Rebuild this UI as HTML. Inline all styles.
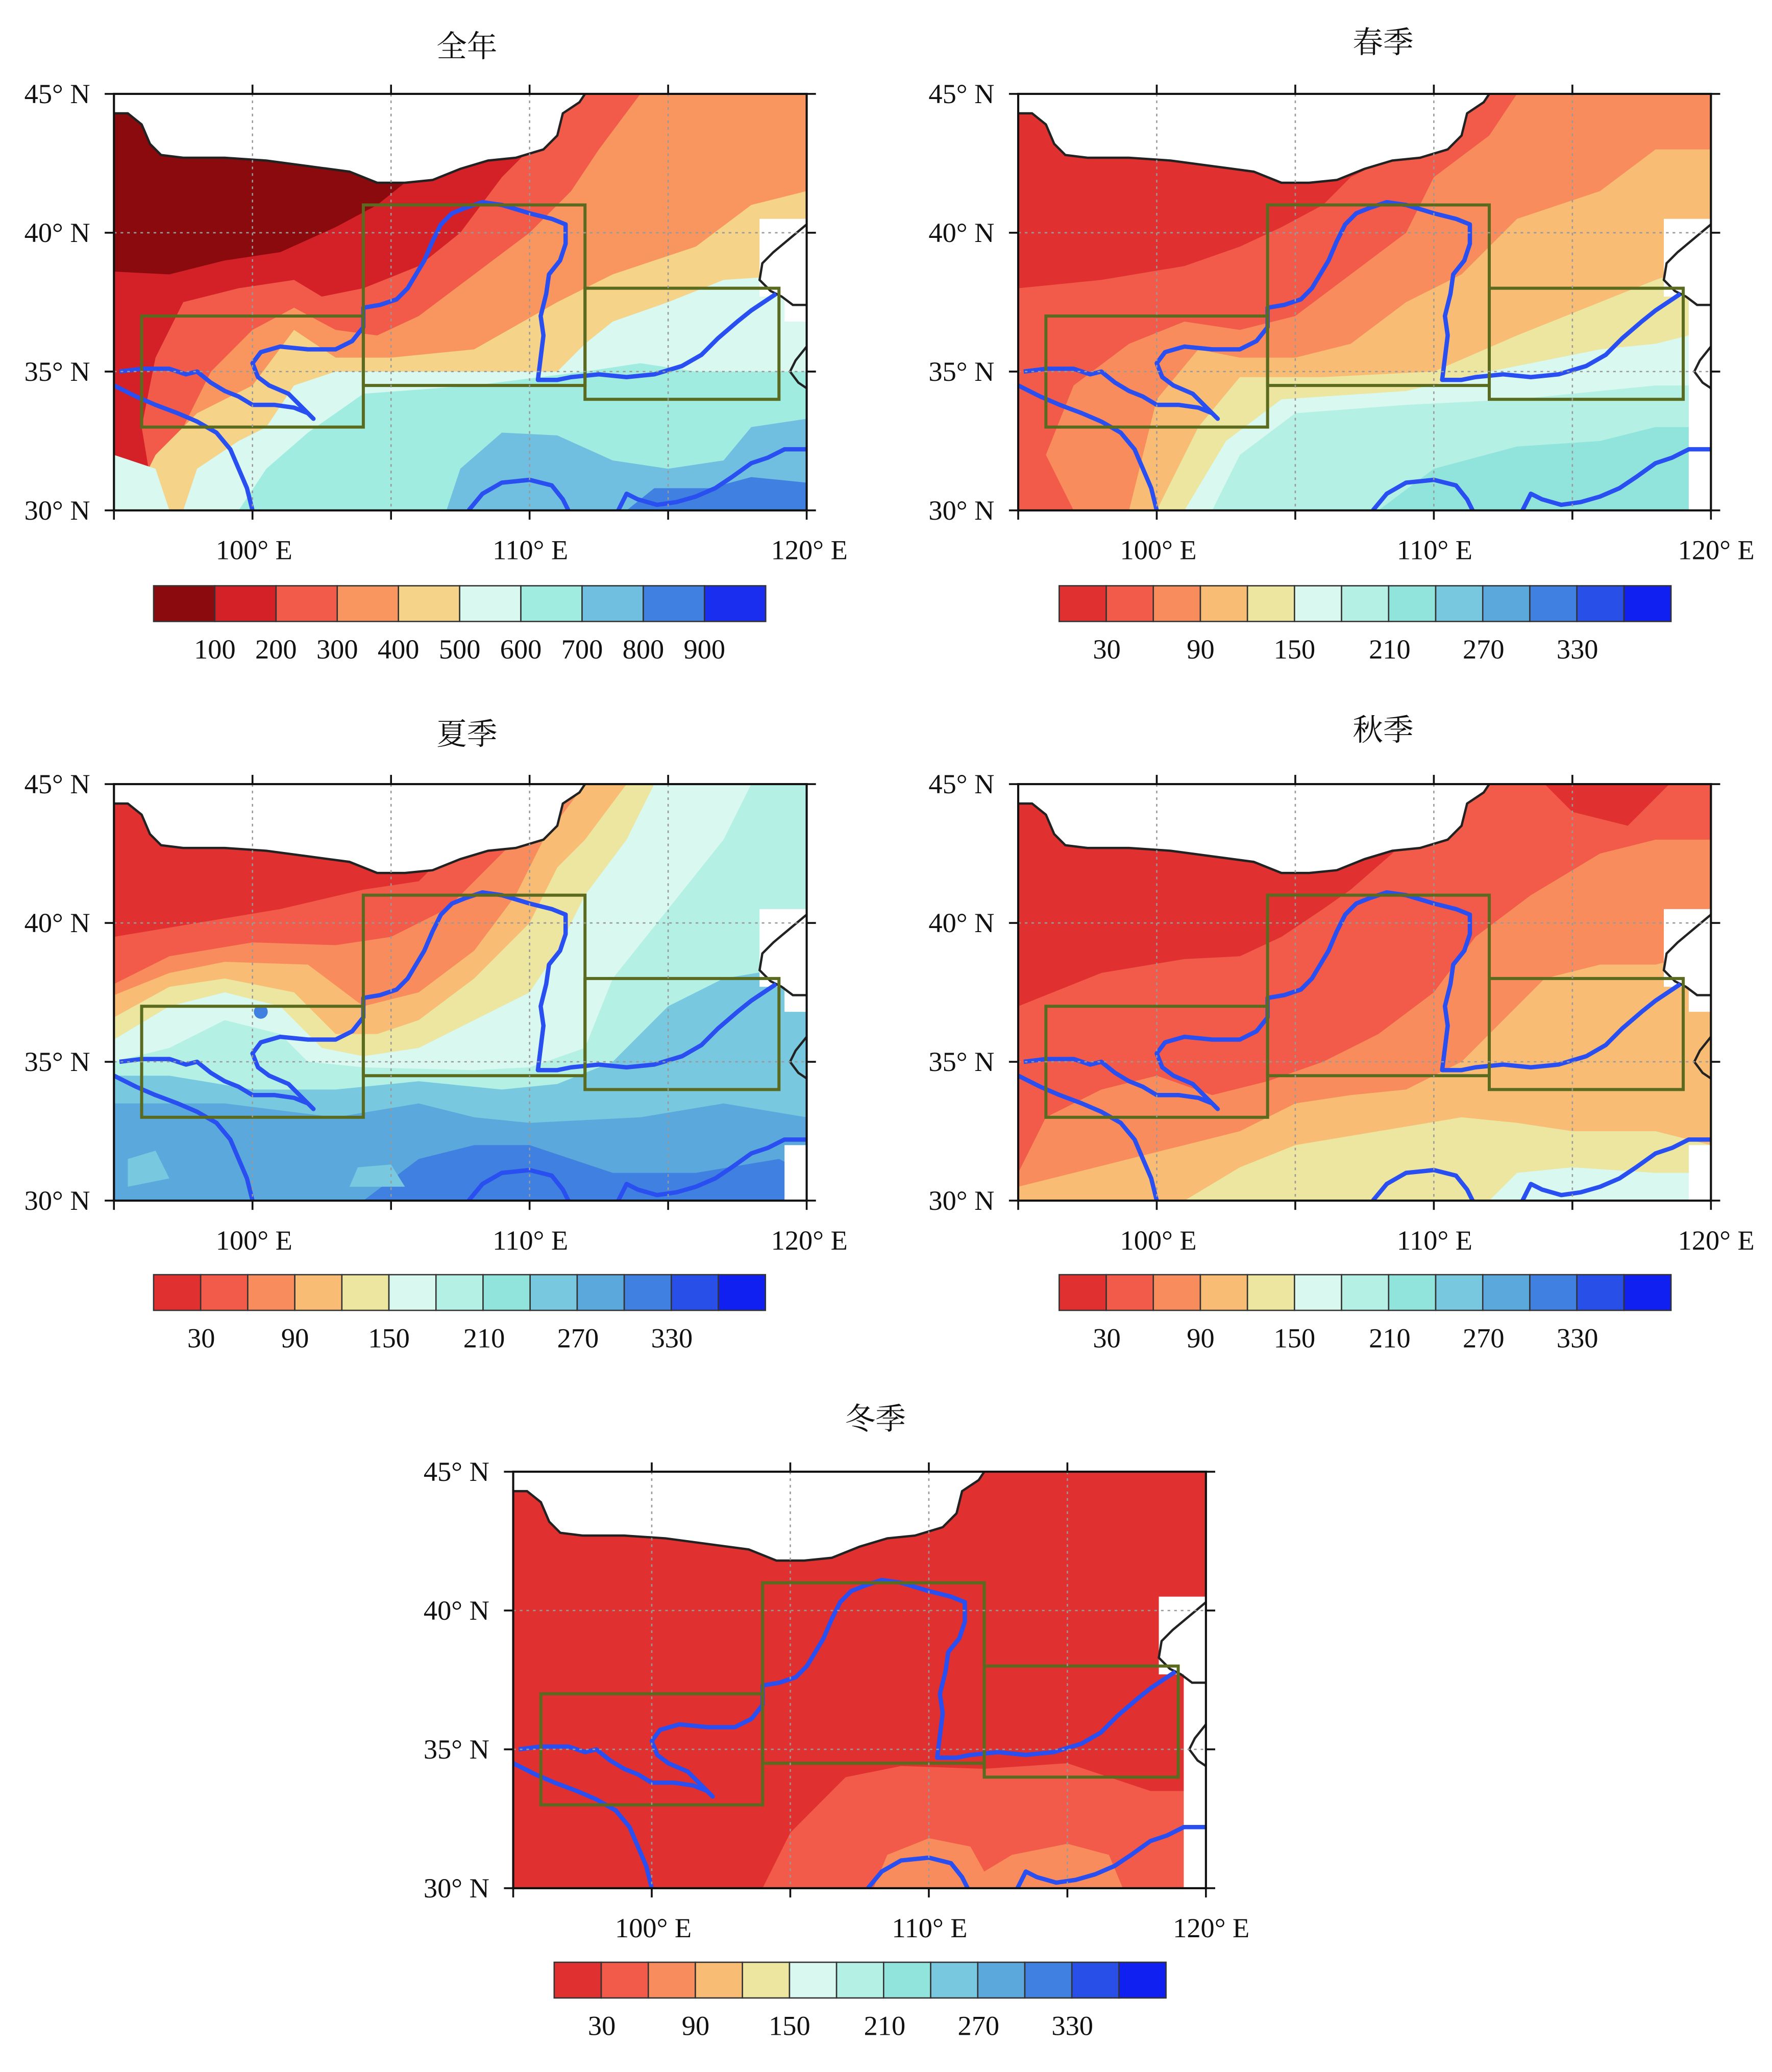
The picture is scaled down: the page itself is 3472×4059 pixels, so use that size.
<!DOCTYPE html>
<html><head><meta charset="utf-8"><style>
html,body{margin:0;padding:0;background:#fff}
svg{display:block}
text{font-family:"Liberation Serif","Noto Serif CJK SC",serif;fill:#111}
.t{font-family:"Liberation Serif","Noto Serif CJK SC","Noto Sans CJK SC",serif;font-size:23px}
.ax{font-size:21px}
</style></head><body>
<svg width="3472" height="4059" viewBox="0 0 1340 1567" xmlns="http://www.w3.org/2000/svg" xmlns:xlink="http://www.w3.org/1999/xlink">
<defs>
<clipPath id="cp"><rect x="95" y="30" width="25" height="15"/></clipPath>
<g id="over">
<polygon fill="#fff" points="95,45 95,44.3 95.5,44.3 96,43.9 96.3,43.2 96.7,42.8 97.5,42.7 99,42.7 100.5,42.6 102,42.4 103.5,42.2 104.5,41.8 105.5,41.8 106.5,41.9 107.5,42.3 108.5,42.6 109.5,42.7 110.5,43 111,43.5 111.2,44.3 111.8,44.7 112,45"/>
<polyline fill="none" stroke="#222" stroke-width="4.5" vector-effect="non-scaling-stroke" points="95,44.3 95.5,44.3 96,43.9 96.3,43.2 96.7,42.8 97.5,42.7 99,42.7 100.5,42.6 102,42.4 103.5,42.2 104.5,41.8 105.5,41.8 106.5,41.9 107.5,42.3 108.5,42.6 109.5,42.7 110.5,43 111,43.5 111.2,44.3 111.8,44.7 112,45"/>
<polygon fill="#fff" points="118.3,40.5 120,40.5 120,36.8 119.2,36.8 119.2,37.7 118.3,37.7"/>
<polyline fill="none" stroke="#222" stroke-width="4.5" vector-effect="non-scaling-stroke" points="120,40.3 119.4,39.8 118.8,39.3 118.4,38.9 118.3,38.3 118.7,37.9 119.1,37.7 119.5,37.4 120,37.4"/>
<polyline fill="none" stroke="#222" stroke-width="4.5" vector-effect="non-scaling-stroke" points="120,35.9 119.6,35.4 119.4,35 119.7,34.6 120,34.4"/>
<polyline fill="none" stroke="#2a4ff0" stroke-width="8.5" stroke-linejoin="round" vector-effect="non-scaling-stroke" points="95.2,35 96,35.1 97,35.1 97.6,34.9 98,35 98.5,34.6 99,34.3 99.5,34.1 100,33.8 100.8,33.8 101.5,33.7 102,33.5 102.2,33.3 101.8,33.7 101.3,34.2 100.6,34.5 100.2,34.8 100,35.3 100.3,35.7 101,35.9 102,35.8 103,35.8 103.6,36.1 104,36.6 104,37.3 104.6,37.4 105.2,37.6 105.6,38 105.9,38.5 106.2,39 106.5,39.7 106.8,40.3 107.2,40.7 107.7,40.9 108.3,41.1 109,41 110,40.7 110.8,40.5 111.3,40.3 111.3,39.6 111.1,39 110.7,38.5 110.6,37.8 110.4,37 110.5,36.3 110.4,35.5 110.3,34.7 111,34.7 111.5,34.8 112.5,34.9 113.5,34.8 114.5,34.9 115.5,35.2 116.2,35.6 116.8,36.2 117.5,36.8 118,37.2 118.6,37.6 118.9,37.8"/>
<polyline fill="none" stroke="#2a4ff0" stroke-width="8.5" stroke-linejoin="round" vector-effect="non-scaling-stroke" points="95,34.5 95.8,34.1 96.5,33.8 97.3,33.5 98,33.2 98.7,32.8 99.2,32.2 99.5,31.5 99.8,30.8 100,30"/>
<polyline fill="none" stroke="#2a4ff0" stroke-width="8.5" stroke-linejoin="round" vector-effect="non-scaling-stroke" points="107.8,30 108.3,30.6 109,31 110,31.1 110.8,30.9 111.2,30.4 111.4,30"/>
<polyline fill="none" stroke="#2a4ff0" stroke-width="8.5" stroke-linejoin="round" vector-effect="non-scaling-stroke" points="113.2,30 113.5,30.6 113.9,30.4 114.6,30.2 115.3,30.3 116,30.5 116.7,30.8 117.3,31.2 118,31.7 118.6,31.9 119.2,32.2 120,32.2"/>
<g fill="none" stroke="#5a6a1e" stroke-width="6" vector-effect="non-scaling-stroke">
<rect x="96" y="33" width="8" height="4" vector-effect="non-scaling-stroke"/>
<rect x="104" y="34.5" width="8" height="6.5" vector-effect="non-scaling-stroke"/>
<rect x="112" y="34" width="7" height="4" vector-effect="non-scaling-stroke"/>
</g>
</g>
<g id="frame">
<g stroke="#999" stroke-width="1" stroke-dasharray="2,3">
<line x1="104.8" y1="0" x2="104.8" y2="315"/><line x1="209.6" y1="0" x2="209.6" y2="315"/><line x1="314.4" y1="0" x2="314.4" y2="315"/><line x1="419.2" y1="0" x2="419.2" y2="315"/>
<line x1="0" y1="105" x2="524" y2="105"/><line x1="0" y1="210" x2="524" y2="210"/>
</g>
<rect x="0" y="0" width="524" height="315" fill="none" stroke="#111" stroke-width="1.6"/>
<g stroke="#111" stroke-width="1.4">
<line x1="104.8" y1="315" x2="104.8" y2="322"/><line x1="209.6" y1="315" x2="209.6" y2="322"/><line x1="314.4" y1="315" x2="314.4" y2="322"/><line x1="419.2" y1="315" x2="419.2" y2="322"/><line x1="0" y1="315" x2="0" y2="322"/><line x1="524" y1="315" x2="524" y2="322"/>
<line x1="104.8" y1="0" x2="104.8" y2="-7"/><line x1="209.6" y1="0" x2="209.6" y2="-7"/><line x1="314.4" y1="0" x2="314.4" y2="-7"/><line x1="419.2" y1="0" x2="419.2" y2="-7"/>
<line x1="-7" y1="0" x2="0" y2="0"/><line x1="-7" y1="105" x2="0" y2="105"/><line x1="-7" y1="210" x2="0" y2="210"/><line x1="-7" y1="315" x2="0" y2="315"/>
<line x1="524" y1="0" x2="531" y2="0"/><line x1="524" y1="105" x2="531" y2="105"/><line x1="524" y1="210" x2="531" y2="210"/><line x1="524" y1="315" x2="531" y2="315"/>
</g>
</g>
<g id="cbS" stroke="#333" stroke-width="1">
<rect x="0" width="35.6" height="27" fill="#e03030"/><rect x="35.6" width="35.6" height="27" fill="#f25a4a"/><rect x="71.2" width="35.6" height="27" fill="#f98c5c"/><rect x="106.8" width="35.6" height="27" fill="#f8bc74"/><rect x="142.4" width="35.6" height="27" fill="#ece6a0"/><rect x="178" width="35.6" height="27" fill="#d9f8f0"/><rect x="213.6" width="35.6" height="27" fill="#b4f0e4"/><rect x="249.2" width="35.6" height="27" fill="#90e4dc"/><rect x="284.8" width="35.6" height="27" fill="#78c8e0"/><rect x="320.4" width="35.6" height="27" fill="#5aa8dc"/><rect x="356" width="35.6" height="27" fill="#4080e0"/><rect x="391.6" width="35.6" height="27" fill="#2850e8"/><rect x="427.2" width="35.6" height="27" fill="#1020f0"/>
</g>
<g id="cbA" stroke="#333" stroke-width="1">
<rect x="0" width="46.3" height="27" fill="#8b0a0e"/><rect x="46.3" width="46.3" height="27" fill="#d42128"/><rect x="92.6" width="46.3" height="27" fill="#f25a4a"/><rect x="138.9" width="46.3" height="27" fill="#f99660"/><rect x="185.2" width="46.3" height="27" fill="#f5d48a"/><rect x="231.5" width="46.3" height="27" fill="#d8f8f0"/><rect x="277.8" width="46.3" height="27" fill="#a0ece0"/><rect x="324.1" width="46.3" height="27" fill="#70bee0"/><rect x="370.4" width="46.3" height="27" fill="#4080e0"/><rect x="416.7" width="46.3" height="27" fill="#1a2ef0"/>
</g>
</defs>

<!-- Panel 1 annual -->
<g transform="translate(86,71)"><g transform="scale(20.96,-21) translate(-95,-45)"><g clip-path="url(#cp)">
<rect x="95" y="30" width="25" height="15" fill="#8b0a0e"/>
<polygon fill="#d42128" points="95,38.6 97,38.5 99,39 101,39.3 103,40.2 104.5,41 105.5,41.8 106,45 120,45 120,30 95,30"/>
<polygon fill="#f25a4a" points="96.5,30 96,33 96.5,35.5 97.5,37.5 99.5,38 101.5,38.3 102.5,37.7 104,38 106,38.8 107.5,40 109,42 110.5,43.5 111.5,45 120,45 120,30"/>
<polygon fill="#f99660" points="97,30 97.5,33 98.5,35 100,36.5 101.5,37.3 103,36.5 104.5,36.3 106,37 108,38.5 110,40 111.5,41.5 112.5,43 114,45 120,45 120,30"/>
<polygon fill="#f5d48a" points="95.5,30 96.5,32 98,33.5 99,34 100,34.5 101.5,36.5 103,35.5 105,35.5 108,35.8 111,37.5 113,38.5 116,39.5 118,41 120,41.5 120,30"/>
<polygon fill="#d8f8f0" points="97.5,30 98,31.5 99.5,32.5 100.5,33 101.5,34.5 103,35 105,35 108,35 111,35 112,36 113,36.8 115,37.5 117,38.3 120,38.5 120,30"/>
<polygon fill="#a0ece0" points="99.5,30 100.5,31.5 102,32.8 104,34.2 108,34.5 112,35 114,35.3 116,35 120,35 120,30"/>
<polygon fill="#70bee0" points="107,30 107.5,31.5 109,32.8 111,32.7 113,31.8 115,31.5 117,31.8 118,33 120,33.3 120,30"/>
<polygon fill="#4080e0" points="113.5,30 114.5,30.8 116.5,30.8 118,31.2 120,31 120,30"/>
<polygon fill="#d8f8f0" points="95,30 95,32 96.5,31.5 97,30"/>
<use xlink:href="#over"/>
</g></g><use xlink:href="#frame"/></g>

<!-- Panel 2 spring -->
<g transform="translate(770,71)"><g transform="scale(20.96,-21) translate(-95,-45)"><g clip-path="url(#cp)">
<rect x="95" y="30" width="25" height="15" fill="#e03030"/>
<polygon fill="#f25a4a" points="95,38 98,38.3 101,38.8 103,39.5 104.5,40.2 106,41 107,42 109,43 110,45 120,45 120,30 95,30"/>
<polygon fill="#f98c5c" points="97,30 96,32 97,34.5 99,36 101,36.8 103,36.5 105,37 107,38.5 109,40 110,42 112,43.5 113,45 120,45 120,30"/>
<polygon fill="#f8bc74" points="99,30 99.5,32 100,34 101.5,35.8 103,35.5 105,35.5 107,36 109,37.5 111,38.5 113,40.5 116,41.5 118,43 120,43 120,30"/>
<polygon fill="#ece6a0" points="100,30 101.5,33 103,34.8 106,34.8 110,35 113,36.3 116,37.5 118,38.3 120,39 120,30"/>
<polygon fill="#d9f8f0" points="101,30 102.5,32.5 104.5,34 109,34.3 112,35 116,35.8 118,36 120,36.5 120,30"/>
<polygon fill="#b4f0e4" points="102,30 103,32 105,33.5 109,33.8 113,34 118,34.5 120,34.5 120,30"/>
<polygon fill="#90e4dc" points="108,30 110,31.5 113,32.3 116,32.5 118,33 120,33 120,30"/>
<polygon fill="#fff" points="119.2,30 120,30 120,36.8 119.2,36.8"/>
<use xlink:href="#over"/>
</g></g><use xlink:href="#frame"/></g>

<!-- Panel 3 summer -->
<g transform="translate(86,593)"><g transform="scale(20.96,-21) translate(-95,-45)"><g clip-path="url(#cp)">
<rect x="95" y="30" width="25" height="15" fill="#e03030"/>
<polygon fill="#f25a4a" points="95,39.5 98,40 101,40.5 104,41.2 106,41.5 107,42.5 108.5,43.5 110,45 120,45 120,30 95,30"/>
<polygon fill="#f98c5c" points="95,37.8 97,38.8 100,39.3 103,39.2 105,39.5 107,40.5 108.5,42 110,43.5 111,45 120,45 120,30 95,30"/>
<polygon fill="#f8bc74" points="95,37.4 97,38.2 99,38.6 102,38.5 104,37 106,37.5 108,39 109.5,41 110.5,43 112,45 120,45 120,30 95,30"/>
<polygon fill="#ece6a0" points="95,36.6 97,37.7 99,38 101.5,37.5 103,36 104.5,36 106,36.5 108,38 110,40 111,42 112,43 113.5,45 120,45 120,30 95,30"/>
<polygon fill="#d9f8f0" points="95,35.8 97,37 99,37.5 101,37 102.5,35.5 104,35.2 106,35.5 108,36.5 110,37.5 111,39 112,41 113.5,43 114.5,45 120,45 120,30 95,30"/>
<polygon fill="#b4f0e4" points="95,35 97,35.5 99,36.5 101,36 102,35 104,34.8 108,34.7 110,34.8 112,35.5 113,38 115,40.5 117,43 118,45 120,45 120,30 95,30"/>
<polygon fill="#78c8e0" points="95,34.5 97,34.5 100,34 103,34 106,34.3 109,34 111,34.2 113,35 115,37 117,38 120,38.5 120,30 95,30"/>
<polygon fill="#5aa8dc" points="95,33.5 99,33.5 103,33 106,33.5 108,33 110,32.8 114,33 117,33.5 120,33 120,30 95,30"/>
<polygon fill="#4080e0" points="104,30 106,31.5 108,32 110,32 113,31 116,31 119,31.5 120,31 120,30"/>
<polygon fill="#78c8e0" points="103.5,30.5 105.5,30.5 105,31.3 103.8,31.2"/>
<polygon fill="#78c8e0" points="95.5,30.5 97,30.8 96.5,31.8 95.5,31.5"/>
<ellipse cx="100.3" cy="36.8" rx="0.25" ry="0.25" fill="#4080e0"/>
<polygon fill="#fff" points="119.2,30 120,30 120,32 119.2,32"/>
<use xlink:href="#over"/>
</g></g><use xlink:href="#frame"/></g>

<!-- Panel 4 autumn -->
<g transform="translate(770,593)"><g transform="scale(20.96,-21) translate(-95,-45)"><g clip-path="url(#cp)">
<rect x="95" y="30" width="25" height="15" fill="#e03030"/>
<polygon fill="#f25a4a" points="95,37 98,38.2 101,38.7 103,38.8 104.5,39.5 106,40.5 107,41.2 108.5,42.5 110,44 111,45 120,45 120,30 95,30"/>
<polygon fill="#e03030" points="114,45 115,44 117,43.5 118,44.5 118.5,45"/>
<polygon fill="#f98c5c" points="95,31 96,33 98,34 100,34.5 102,33.8 104,34.3 106,35 108,36 110,37.5 111.5,39.5 113.5,41 116,42.5 118,43 120,43 120,30 95,30"/>
<polygon fill="#f8bc74" points="95,30.5 97,31 99,31.5 101,32 103,32.5 105,33.5 107,33.8 109,34 111,35 112.5,36.5 114,38 116,38.5 118,38.5 120,39 120,30 95,30"/>
<polygon fill="#ece6a0" points="101,30 103,31.2 105,32 108,32.5 111,33 113,32.8 115,32.5 118,32.5 120,32 120,30"/>
<polygon fill="#d9f8f0" points="112,30 113,31 115,31.2 118,31 120,31 120,30"/>
<polygon fill="#fff" points="119.2,30 120,30 120,32 119.2,32"/>
<use xlink:href="#over"/>
</g></g><use xlink:href="#frame"/></g>

<!-- Panel 5 winter -->
<g transform="translate(388,1113)"><g transform="scale(20.96,-21) translate(-95,-45)"><g clip-path="url(#cp)">
<rect x="95" y="30" width="25" height="15" fill="#e03030"/>
<polygon fill="#f25a4a" points="104,30 105,32 107,34 109,34.4 112,34.3 115,34.5 118,33.5 120,33.5 120,30"/>
<polygon fill="#f98c5c" points="108,30 108.5,31.2 110,31.8 111.5,31.5 112,30.6 113,31.2 115,31.6 116.5,31.2 117,30"/>
<polygon fill="#fff" points="119.2,30 120,30 120,36.8 119.2,36.8"/>
<use xlink:href="#over"/>
</g></g><use xlink:href="#frame"/></g>

<!-- titles -->
<g class="t">
<text x="353" y="43" text-anchor="middle" class="t">全年</text>
<text x="1046" y="40" text-anchor="middle" class="t">春季</text>
<text x="353" y="563" text-anchor="middle" class="t">夏季</text>
<text x="1046" y="560" text-anchor="middle" class="t">秋季</text>
<text x="662" y="1081" text-anchor="middle" class="t">冬季</text>
</g>

<!-- axis labels -->
<g class="ax" text-anchor="end">
<text x="68" y="78" class="ax">45° N</text><text x="68" y="183" class="ax">40° N</text><text x="68" y="288" class="ax">35° N</text><text x="68" y="393" class="ax">30° N</text>
<text x="752" y="78" class="ax">45° N</text><text x="752" y="183" class="ax">40° N</text><text x="752" y="288" class="ax">35° N</text><text x="752" y="393" class="ax">30° N</text>
<text x="68" y="600" class="ax">45° N</text><text x="68" y="705" class="ax">40° N</text><text x="68" y="810" class="ax">35° N</text><text x="68" y="915" class="ax">30° N</text>
<text x="752" y="600" class="ax">45° N</text><text x="752" y="705" class="ax">40° N</text><text x="752" y="810" class="ax">35° N</text><text x="752" y="915" class="ax">30° N</text>
<text x="370" y="1120" class="ax">45° N</text><text x="370" y="1225" class="ax">40° N</text><text x="370" y="1330" class="ax">35° N</text><text x="370" y="1435" class="ax">30° N</text>
</g>
<g class="ax" text-anchor="middle">
<text x="192" y="423" class="ax">100° E</text><text x="401" y="423" class="ax">110° E</text><text x="612" y="423" class="ax">120° E</text>
<text x="876" y="423" class="ax">100° E</text><text x="1085" y="423" class="ax">110° E</text><text x="1298" y="423" class="ax">120° E</text>
<text x="192" y="945" class="ax">100° E</text><text x="401" y="945" class="ax">110° E</text><text x="612" y="945" class="ax">120° E</text>
<text x="876" y="945" class="ax">100° E</text><text x="1085" y="945" class="ax">110° E</text><text x="1298" y="945" class="ax">120° E</text>
<text x="494" y="1465" class="ax">100° E</text><text x="703" y="1465" class="ax">110° E</text><text x="916" y="1465" class="ax">120° E</text>
</g>

<!-- colorbars -->
<use xlink:href="#cbA" x="116" y="443"/>
<use xlink:href="#cbS" x="801" y="443"/>
<use xlink:href="#cbS" x="116" y="964"/>
<use xlink:href="#cbS" x="801" y="964"/>
<use xlink:href="#cbS" x="419" y="1484"/>

<g class="ax" text-anchor="middle">
<text x="162.3" y="498" class="ax">100</text><text x="208.6" y="498" class="ax">200</text><text x="254.9" y="498" class="ax">300</text><text x="301.2" y="498" class="ax">400</text><text x="347.5" y="498" class="ax">500</text><text x="393.8" y="498" class="ax">600</text><text x="440.1" y="498" class="ax">700</text><text x="486.4" y="498" class="ax">800</text><text x="532.7" y="498" class="ax">900</text>

<text x="837" y="498" class="ax">30</text><text x="908" y="498" class="ax">90</text><text x="979" y="498" class="ax">150</text><text x="1051" y="498" class="ax">210</text><text x="1122" y="498" class="ax">270</text><text x="1193" y="498" class="ax">330</text>

<text x="152" y="1019" class="ax">30</text><text x="223" y="1019" class="ax">90</text><text x="294" y="1019" class="ax">150</text><text x="366" y="1019" class="ax">210</text><text x="437" y="1019" class="ax">270</text><text x="508" y="1019" class="ax">330</text>

<text x="837" y="1019" class="ax">30</text><text x="908" y="1019" class="ax">90</text><text x="979" y="1019" class="ax">150</text><text x="1051" y="1019" class="ax">210</text><text x="1122" y="1019" class="ax">270</text><text x="1193" y="1019" class="ax">330</text>

<text x="455" y="1539" class="ax">30</text><text x="526" y="1539" class="ax">90</text><text x="597" y="1539" class="ax">150</text><text x="669" y="1539" class="ax">210</text><text x="740" y="1539" class="ax">270</text><text x="811" y="1539" class="ax">330</text>
</g>
</svg>
</body></html>
